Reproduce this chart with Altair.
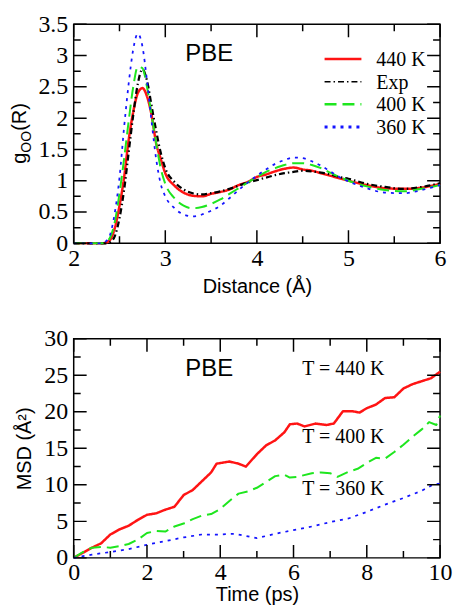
import altair as alt
import pandas as pd

# ---------------- data: g_OO(R) ----------------
R = [2.0, 2.3, 2.35, 2.4, 2.45, 2.5, 2.55, 2.6, 2.65, 2.7, 2.75, 2.8, 2.85, 2.9, 2.95,
     3.0, 3.1, 3.2, 3.3, 3.4, 3.5, 3.6, 3.7, 3.8, 3.9, 4.0, 4.1, 4.2, 4.3, 4.4, 4.5,
     4.6, 4.7, 4.8, 4.9, 5.0, 5.2, 5.4, 5.6, 5.8, 6.0]
g_440 = [0, 0, 0.01, 0.06, 0.25, 0.6, 1.05, 1.65, 2.1, 2.4, 2.48, 2.35, 2.05, 1.6, 1.35,
         1.12, 0.92, 0.81, 0.76, 0.75, 0.79, 0.82, 0.86, 0.93, 0.98, 1.06, 1.1, 1.15, 1.19, 1.21, 1.18,
         1.16, 1.12, 1.08, 1.04, 1.0, 0.93, 0.88, 0.87, 0.89, 0.95]
g_exp = [0, 0, 0, 0.02, 0.12, 0.4, 0.85, 1.45, 2.05, 2.55, 2.78, 2.6, 2.2, 1.8, 1.45,
         1.2, 0.98, 0.86, 0.8, 0.78, 0.8, 0.83, 0.87, 0.92, 0.97, 1.01, 1.05, 1.09, 1.12, 1.14, 1.16,
         1.15, 1.13, 1.1, 1.06, 1.03, 0.95, 0.9, 0.87, 0.9, 0.96]
g_400 = [0, 0, 0.02, 0.1, 0.35, 0.8, 1.35, 1.95, 2.5, 2.82, 2.8, 2.5, 2.05, 1.6, 1.2,
         0.95, 0.72, 0.6, 0.56, 0.58, 0.63, 0.7, 0.79, 0.88, 0.97, 1.06, 1.14, 1.2, 1.25, 1.28, 1.28,
         1.25, 1.2, 1.13, 1.06, 1.0, 0.91, 0.85, 0.83, 0.87, 0.93]
g_360 = [0, 0, 0.03, 0.15, 0.5, 1.05, 1.85, 2.55, 3.1, 3.35, 3.15, 2.6, 1.95, 1.35, 0.95,
         0.75, 0.56, 0.46, 0.43, 0.46, 0.52, 0.6, 0.72, 0.85, 0.97, 1.08, 1.18, 1.27, 1.33, 1.37, 1.36,
         1.31, 1.24, 1.15, 1.06, 0.99, 0.88, 0.81, 0.8, 0.85, 0.93]

# ---------------- data: MSD(t) ----------------
t_440 = [0, 0.25, 0.5, 0.75, 1.0, 1.25, 1.5, 1.75, 2.0, 2.25, 2.5, 2.75, 3.0, 3.25, 3.5, 3.75,
         3.9, 4.25, 4.5, 4.7, 5.0, 5.25, 5.5, 5.75, 5.9, 6.1, 6.3, 6.6, 6.9, 7.1, 7.35, 7.6,
         7.8, 8.0, 8.25, 8.5, 8.75, 9.0, 9.25, 9.5, 9.75, 10.0]
msd_440 = [0, 0.7, 1.4, 2.0, 3.2, 3.9, 4.4, 5.2, 5.9, 6.1, 6.6, 7.0, 8.6, 9.3, 10.5, 11.7,
           12.9, 13.2, 12.9, 12.5, 14.2, 15.4, 16.1, 17.2, 18.3, 18.4, 18.0, 18.4, 18.2, 18.4, 20.1, 20.1,
           19.9, 20.5, 21.0, 21.9, 22.0, 23.2, 23.8, 24.2, 24.6, 25.5]
t_400 = [0, 0.25, 0.5, 0.75, 1.0, 1.25, 1.5, 1.75, 2.0, 2.25, 2.5, 2.75, 3.0, 3.25, 3.5, 3.75,
         4.0, 4.25, 4.5, 4.75, 5.0, 5.25, 5.5, 5.75, 5.9, 6.1, 6.5, 6.75, 7.0, 7.2, 7.5, 7.75,
         8.0, 8.25, 8.5, 8.75, 9.0, 9.25, 9.5, 9.7, 9.9, 10.0]
msd_400 = [0, 0.8, 1.4, 1.5, 1.4, 1.6, 1.9, 2.5, 3.4, 3.7, 3.6, 4.3, 4.7, 5.3, 5.8, 6.0,
           6.7, 7.8, 8.8, 9.1, 9.6, 10.4, 11.2, 11.4, 11.0, 11.1, 11.6, 11.7, 11.6, 11.1, 11.8, 12.2,
           13.0, 13.7, 13.6, 14.5, 15.5, 16.6, 17.6, 18.6, 18.2, 19.5]
t_360 = [0, 0.5, 1.0, 1.5, 2.0, 2.5, 3.0, 3.5, 4.0, 4.4, 4.7, 5.0, 5.5, 6.0, 6.5, 7.0,
         7.5, 8.0, 8.5, 9.0, 9.5, 9.8, 10.0]
msd_360 = [0, 0.45, 0.8, 1.2, 1.8, 2.3, 2.8, 3.2, 3.2, 3.3, 3.0, 2.7, 3.3, 3.8, 4.3, 4.9,
           5.4, 6.3, 7.3, 8.2, 9.2, 10.0, 10.2]

SERIES = ["440 K", "Exp", "400 K", "360 K"]
COLORS = ["#ff1414", "#000000", "#1ee61e", "#1414ff"]
DASHES = [[1, 0], [6, 3, 1.5, 3], [12, 6], [3, 5]]
WIDTHS = [2.5, 1.5, 2.5, 3]

MSD_LABELS = ["T = 440 K", "T = 400 K", "T = 360 K"]
MSD_LABEL_T = [7.36, 7.36, 7.36]
MSD_LABEL_Y = [25.9, 16.5, 9.4]

W, H = 368, 220
SERIF = "Liberation Serif"
SANS = "Liberation Sans"
MAJ, MIN = 13, 7

# frame ticks are drawn in the same line layer as the curves ("tick" series)
ALL_SERIES = SERIES + ["tick"]
color_enc = alt.Color("series:N", scale=alt.Scale(domain=ALL_SERIES, range=COLORS + ["#000000"]), legend=None)
dash_enc = alt.StrokeDash("series:N", scale=alt.Scale(domain=ALL_SERIES, range=DASHES + [[1, 0]]), legend=None)
width_enc = alt.StrokeWidth("series:N", scale=alt.Scale(domain=ALL_SERIES, range=WIDTHS + [1.5]), legend=None)


def tick_table(xdom, ydom, xmaj, xmin, ymaj, ymin, xname, yname):
    sx = (xdom[1] - xdom[0]) / W
    sy = (ydom[1] - ydom[0]) / H
    seg, tx, ty = [], [], []
    k = 0
    for vals, L in [(xmaj, MAJ), (xmin, MIN)]:
        for v in vals:
            for a, b in [(ydom[0], ydom[0] + L * sy), (ydom[1], ydom[1] - L * sy)]:
                seg += [f"tk{k}"] * 2; tx += [v, v]; ty += [a, b]; k += 1
    for vals, L in [(ymaj, MAJ), (ymin, MIN)]:
        for v in vals:
            for a, b in [(xdom[0], xdom[0] + L * sx), (xdom[1], xdom[1] - L * sx)]:
                seg += [f"tk{k}"] * 2; tx += [a, b]; ty += [v, v]; k += 1
    return pd.DataFrame({xname: tx, yname: ty, "series": "tick", "seg": seg})


def axis_layer(xdom, ydom, xmaj, ymaj, xtitle, ytitle, xlabpad, xtitlepad, ytitlepad, xs, ys):
    df = pd.DataFrame({"ax": [xdom[0], xdom[1]], "ay": [ydom[0], ydom[1]]})
    lab = dict(ticks=False, domain=False, grid=False, format="~r", labelFont=SERIF,
               labelFontSize=24, labelColor="black", labelFlush=False, labelOverlap=False,
               labelBound=False, titleFont=SANS, titleFontSize=20, titleFontWeight="normal",
               titleColor="black")
    xlab = alt.Axis(orient="bottom", values=xmaj, labelPadding=xlabpad, title=xtitle,
                    titlePadding=xtitlepad, **lab)
    if ytitle:
        ylab = alt.Axis(orient="left", values=ymaj, labelPadding=6, title=ytitle,
                        titlePadding=ytitlepad, **lab)
    else:
        ylab = alt.Axis(orient="left", values=ymaj, labelPadding=6, title=None, **lab)
    return alt.Chart(df).mark_point(opacity=0).encode(
        x=alt.X("ax:Q", scale=xs, axis=xlab), y=alt.Y("ay:Q", scale=ys, axis=ylab))


# ---------------- top panel ----------------
XD1, YD1 = [2, 6], [0, 3.5]
xs1 = alt.Scale(domain=XD1, nice=False, zero=False)
ys1 = alt.Scale(domain=YD1, nice=False, zero=False)
xmaj1, xmin1 = [2, 3, 4, 5, 6], [2.5, 3.5, 4.5, 5.5]
ymaj1 = [0, 0.5, 1, 1.5, 2, 2.5, 3, 3.5]
ymin1 = [0.25, 0.75, 1.25, 1.75, 2.25, 2.75, 3.25]

gdf = pd.concat([
    pd.DataFrame({"R": R, "g": vals, "series": name, "seg": name})
    for name, vals in zip(SERIES, [g_440, g_exp, g_400, g_360])
] + [tick_table(XD1, YD1, xmaj1, xmin1, ymaj1, ymin1, "R", "g")])

top_axis = axis_layer(XD1, YD1, xmaj1, ymaj1, "Distance (Å)", None, 3, 6, 0, xs1, ys1)

top_lines = alt.Chart(gdf).mark_line(interpolate="monotone").encode(
    x=alt.X("R:Q", scale=xs1, axis=None),
    y=alt.Y("g:Q", scale=ys1, axis=None),
    color=color_enc, strokeDash=dash_enc, strokeWidth=width_enc, detail="seg:N",
)

pbe_top = alt.Chart(pd.DataFrame({"px": [3.48], "py": [3.02], "t": ["PBE"]})).mark_text(
    font=SANS, fontSize=24, color="black", baseline="middle", align="center"
).encode(x=alt.X("px:Q", scale=xs1, axis=None), y=alt.Y("py:Q", scale=ys1, axis=None), text="t:N")

legend_layers = []
for i, (name, col, dash, wd) in enumerate(zip(SERIES, COLORS, DASHES, WIDTHS)):
    yrow = 35 + 22.7 * i
    one = pd.DataFrame({"label": [name]})
    legend_layers.append(alt.Chart(one).mark_rule(color=col, strokeDash=dash, strokeWidth=wd).encode(
        x=alt.value(252), x2=alt.value(289), y=alt.value(yrow)))
    legend_layers.append(alt.Chart(one).mark_text(font=SERIF, fontSize=20, color="black", align="left",
                                                  baseline="middle").encode(
        x=alt.value(304), y=alt.value(yrow + 1), text="label:N"))

ytitle_parts = [("g", 20, -48, 140), ("OO", 14, -43, 129), ("(R)", 20, -48, 107)]
title_layers = []
for txt, fs, xx, yy in ytitle_parts:
    title_layers.append(alt.Chart(pd.DataFrame({"s": [txt]})).mark_text(
        font=SANS, fontSize=fs, color="black", angle=270, align="left", baseline="alphabetic"
    ).encode(x=alt.value(xx), y=alt.value(yy), text="s:N"))

top = alt.layer(top_axis, top_lines, pbe_top, *legend_layers, *title_layers).resolve_axis(
    x="independent", y="independent").properties(width=W, height=H)

# ---------------- bottom panel ----------------
XD2, YD2 = [0, 10], [0, 30]
xs2 = alt.Scale(domain=XD2, nice=False, zero=False)
ys2 = alt.Scale(domain=YD2, nice=False, zero=False)
xmaj2, xmin2 = [0, 2, 4, 6, 8, 10], [1, 3, 5, 7, 9]
ymaj2 = [0, 5, 10, 15, 20, 25, 30]
ymin2 = [2.5, 7.5, 12.5, 17.5, 22.5, 27.5]

mdf = pd.concat([
    pd.DataFrame({"t": tt, "msd": vv, "series": name, "seg": name})
    for name, tt, vv in [("440 K", t_440, msd_440), ("400 K", t_400, msd_400), ("360 K", t_360, msd_360)]
] + [tick_table(XD2, YD2, xmaj2, xmin2, ymaj2, ymin2, "t", "msd")])

bot_axis = axis_layer(XD2, YD2, xmaj2, ymaj2, "Time (ps)", "MSD (Å²)", 3, 0, 9, xs2, ys2)

bot_lines = alt.Chart(mdf).mark_line(interpolate="linear", strokeJoin="round").encode(
    x=alt.X("t:Q", scale=xs2, axis=None),
    y=alt.Y("msd:Q", scale=ys2, axis=None),
    color=color_enc, strokeDash=dash_enc, strokeWidth=width_enc, detail="seg:N",
)

pbe_bot = alt.Chart(pd.DataFrame({"px": [3.7], "py": [25.9], "t": ["PBE"]})).mark_text(
    font=SANS, fontSize=24, color="black", baseline="middle", align="center"
).encode(x=alt.X("px:Q", scale=xs2, axis=None), y=alt.Y("py:Q", scale=ys2, axis=None), text="t:N")

tlabels = alt.Chart(pd.DataFrame({"px": MSD_LABEL_T, "py": MSD_LABEL_Y, "t": MSD_LABELS})).mark_text(
    font=SERIF, fontSize=20, color="black", baseline="middle", align="center"
).encode(x=alt.X("px:Q", scale=xs2, axis=None), y=alt.Y("py:Q", scale=ys2, axis=None), text="t:N")

bottom = alt.layer(bot_axis, bot_lines, pbe_bot, tlabels).resolve_axis(
    x="independent", y="independent").properties(width=W, height=H)

chart = alt.vconcat(top, bottom, spacing=29).properties(
    padding={"left": 1, "top": 2, "right": 0, "bottom": 0}
).configure_view(stroke="black", strokeWidth=1.5)

chart.save("out.html", embed_options={"renderer": "svg", "actions": False})
